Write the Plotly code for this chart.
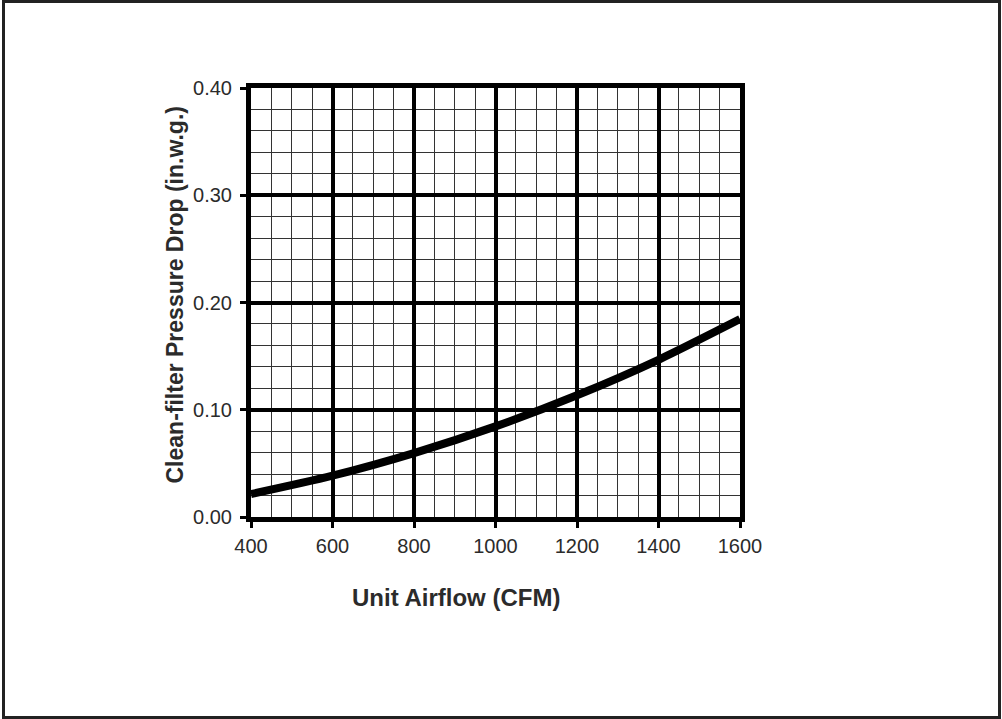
import plotly.graph_objects as go

airflow_cfm = [400, 600, 800, 1000, 1200, 1400, 1600]
pressure_drop = [0.0214, 0.0385, 0.0596, 0.0845, 0.1135, 0.1466, 0.1845]

x_ticks = [400, 600, 800, 1000, 1200, 1400, 1600]
y_ticks = [0.0, 0.1, 0.2, 0.3, 0.4]
y_tick_labels = ["0.00", "0.10", "0.20", "0.30", "0.40"]

x_title = "Unit Airflow (CFM)"
y_title = "Clean-filter Pressure Drop (in.w.g.)"

W, H = 1002, 719
L, R, T, B = 251, 262, 88, 202
pw, ph = W - L - R, H - T - B

def px(x):
    return (x - L) / pw

def py(y):
    return (H - B - y) / ph

fig = go.Figure()
fig.add_trace(go.Scatter(
    x=airflow_cfm, y=pressure_drop, mode="lines",
    line=dict(color="black", width=8, shape="spline", smoothing=0.8),
    hoverinfo="skip", showlegend=False, cliponaxis=True,
))

font_fam = "Liberation Sans, Arial, sans-serif"
tick_color = "#2b2b2b"

fig.update_layout(
    width=W, height=H,
    margin=dict(l=L, r=R, t=T, b=B, pad=0),
    paper_bgcolor="white", plot_bgcolor="white",
    showlegend=False,
    font=dict(family=font_fam, color=tick_color, size=20),
    xaxis=dict(
        range=[400, 1600], tickvals=x_ticks, ticktext=[str(v) for v in x_ticks],
        showgrid=True, gridcolor="black", gridwidth=4,
        minor=dict(dtick=50, showgrid=True, gridcolor="#333333", gridwidth=1, ticks=""),
        showline=True, linecolor="black", linewidth=5, mirror=True,
        ticks="outside", ticklen=6, tickwidth=3, tickcolor="black",
        tickfont=dict(size=20, color=tick_color, family=font_fam),
        ticklabelstandoff=1,
        zeroline=False, fixedrange=True,
    ),
    yaxis=dict(
        range=[0, 0.4], tickvals=y_ticks, ticktext=y_tick_labels,
        showgrid=True, gridcolor="black", gridwidth=4,
        minor=dict(dtick=0.02, showgrid=True, gridcolor="#333333", gridwidth=1, ticks=""),
        showline=True, linecolor="black", linewidth=5, mirror=True,
        ticks="outside", ticklen=6, tickwidth=3, tickcolor="black",
        tickfont=dict(size=20, color=tick_color, family=font_fam),
        ticklabelstandoff=4,
        zeroline=False, fixedrange=True,
    ),
    annotations=[
        dict(text="<b>" + x_title + "</b>", xref="paper", yref="paper",
             x=px(456), y=py(597), showarrow=False, xanchor="center", yanchor="middle",
             font=dict(size=24, color=tick_color, family=font_fam)),
        dict(text="<b>" + y_title + "</b>", xref="paper", yref="paper",
             x=px(174), y=py(295.5), showarrow=False, xanchor="center", yanchor="middle",
             textangle=-90,
             font=dict(size=23, color=tick_color, family=font_fam)),
    ],
    shapes=[
        dict(type="rect", xref="paper", yref="paper",
             x0=px(3.5), x1=px(999.5), y0=py(717.5), y1=py(1.5),
             line=dict(color="#222222", width=3), fillcolor="rgba(0,0,0,0)", layer="below"),
    ],
)

fig.write_html("out.html", config={"displayModeBar": False})

with open("out.html", "r", encoding="utf-8") as f:
    html = f.read()
html = html.replace("<head>", "<head><style>html,body{margin:0;padding:0;overflow:hidden;}</style>", 1)
with open("out.html", "w", encoding="utf-8") as f:
    f.write(html)
